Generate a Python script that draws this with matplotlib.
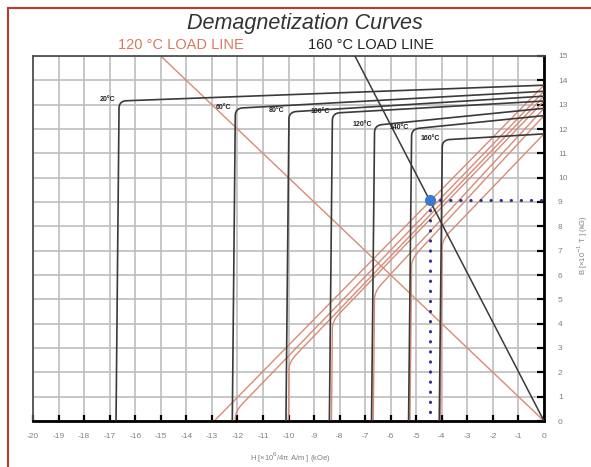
import numpy as np
import matplotlib
matplotlib.use('Agg')
import matplotlib.pyplot as plt
from matplotlib.patches import Rectangle

plt.rcParams['font.family'] = ['Liberation Sans', 'DejaVu Sans']
plt.rcParams['axes.unicode_minus'] = False

# (H in kOe, B in kG)
temps = ['20°C', '60°C', '80°C', '100°C', '120°C', '140°C', '160°C']
hcj = [-16.75, -12.2, -10.1, -8.4, -6.75, -5.3, -4.1]      # intrinsic coercivity
b_knee = [13.15, 12.85, 12.7, 12.65, 12.15, 12.0, 11.55]  # level at the knee
b_r = [13.8, 13.55, 13.35, 13.15, 12.85, 12.55, 11.8]     # remanence at H = 0

load_120 = ([-15.0, 0.0], [15.0, 0.0])
load_160 = ([-7.4, 0.0], [15.0, 0.0])
op_point = (-4.45, 9.1)

x_ticks = list(range(-20, 1))
y_ticks = list(range(0, 16))

mu0 = 1.03  # slope of B = J + mu0*H in these units


def knee_curve(hc, bk, br, r=0.3, tilt=0.12):
    p0 = np.array([hc, 0.0])
    p1 = np.array([hc + tilt, bk])
    p2 = np.array([0.0, br])
    d1 = (p0 - p1) / np.linalg.norm(p0 - p1)
    d2 = (p2 - p1) / np.linalg.norm(p2 - p1)
    a = p1 + d1 * r
    b = p1 + d2 * r
    t = np.linspace(0, 1, 30)[:, None]
    corner = (1 - t) ** 2 * a + 2 * (1 - t) * t * p1 + t ** 2 * b
    pts = np.vstack([p0, corner, p2])
    return pts[:, 0], pts[:, 1]


fig = plt.figure(figsize=(5.91, 4.67), dpi=100)
ax = fig.add_axes([33 / 591, 1 - 421 / 467, 511 / 591, 365 / 467])

red = '#d98a76'
dark = '#3a3a3a'

for name, hc, bk, br in zip(temps, hcj, b_knee, b_r):
    h, j = knee_curve(hc, bk, br)
    ax.plot(h, j, color=dark, lw=1.2, zorder=3)
    ax.plot(h, j + mu0 * h, color=red, lw=1.0, zorder=2)
    ax.text(hc - 0.35, bk + 0.05, name, fontsize=5, fontweight='bold',
            ha='center', va='center', color='#222222', zorder=4)

ax.plot(*load_120, color=red, lw=1.0, zorder=2)
ax.plot(*load_160, color=dark, lw=1.1, zorder=3)

# operating point with dotted guides
ax.plot([op_point[0], 0], [op_point[1], op_point[1]], color='#2e2e8a',
        lw=2.2, ls=(0, (0.1, 3.2)), dash_capstyle='round', zorder=4)
ax.plot([op_point[0], op_point[0]], [op_point[1], 0], color='#2e2e8a',
        lw=2.2, ls=(0, (0.1, 3.2)), dash_capstyle='round', zorder=4)
ax.plot(*op_point, 'o', color='#3b78d0', ms=7, zorder=5)

ax.set_xlim(-20, 0)
ax.set_ylim(0, 15)
ax.set_xticks(x_ticks)
ax.set_yticks(y_ticks)
ax.yaxis.tick_right()
ax.grid(True, color='#bdbdbd', lw=1.2)
ax.set_axisbelow(True)
ax.tick_params(axis='x', direction='in', length=4, width=1.6, color='black',
               labelsize=6, labelcolor='#808080', pad=9)
ax.tick_params(axis='y', direction='in', length=5, width=1.6, color='black',
               labelsize=6, labelcolor='#808080', pad=10)
for s in ['bottom', 'right']:
    ax.spines[s].set_linewidth(2.0)
    ax.spines[s].set_color('black')
for s in ['top', 'left']:
    ax.spines[s].set_linewidth(1.3)
    ax.spines[s].set_color('#505050')

fig.text(305 / 591, 1 - 23 / 467, 'Demagnetization Curves', fontsize=15.5,
         style='italic', color='#333333', ha='center', va='center')
fig.text(181 / 591, 1 - 45 / 467, '120 °C LOAD LINE', fontsize=10.5,
         color='#d8795f', ha='center', va='center')
fig.text(371 / 591, 1 - 45 / 467, '160 °C LOAD LINE', fontsize=10.5,
         color='#222222', ha='center', va='center')
fig.text(290 / 591, 1 - 458 / 467, 'H [×10$^6$/4π A/m ] (kOe)', fontsize=5.5,
         color='#808080', ha='center', va='center')
fig.text(583 / 591, 1 - 245 / 467, 'B [×10$^{-1}$ T ] (kG)', fontsize=5.5,
         color='#808080', ha='center', va='center', rotation=90)

fig.patches.append(Rectangle((8 / 591, -0.05), 1.0, 1 - 8 / 467 + 0.05,
                             transform=fig.transFigure, fill=False,
                             edgecolor='#c0392b', lw=1.5))

fig.savefig('out.png', dpi=100)
